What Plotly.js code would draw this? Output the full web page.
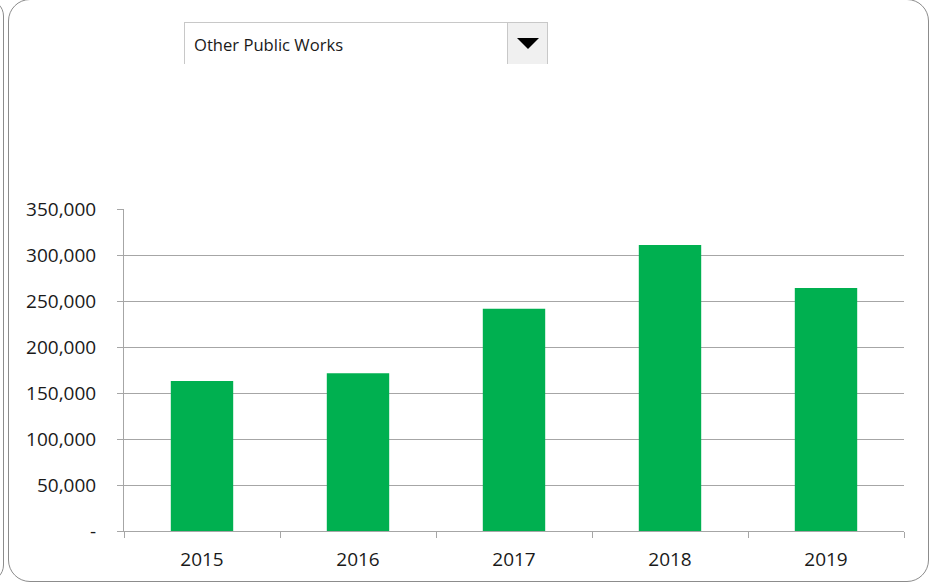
<!DOCTYPE html>
<html>
<head>
<meta charset="utf-8">
<script src="https://cdn.plot.ly/plotly-3.0.1.min.js"></script>
<style>
  html, body { margin: 0; padding: 0; background: #ffffff; }
  #wrap { position: relative; width: 941px; height: 584px; overflow: hidden; background: #fff; }
  #chart { position: absolute; left: 0; top: 0; width: 941px; height: 584px; }
  #frame { position: absolute; left: 8px; top: -1px; width: 919px; height: 581px; border: 1px solid #8c8c8c; border-radius: 22px; pointer-events: none; }
  #frameLeft { position: absolute; left: -30px; top: -1px; width: 32px; height: 581px; border: 1px solid #8c8c8c; border-radius: 22px; pointer-events: none; }
  #dd { position: absolute; left: 184px; top: 22px; width: 363px; height: 42px; border-top: 1px solid #c8c8c8; border-left: 1px solid #c8c8c8; box-sizing: border-box; font-family: "Open Sans", "Noto Sans", sans-serif; font-size: 16.6px; color: #1a1a1a; }
  #ddText { position: absolute; left: 9px; top: 10px; }
  #ddBtn { position: absolute; right: -1px; top: -1px; width: 41px; height: 42px; background: #f0f0f0; border: 1px solid #c8c8c8; border-bottom: none; box-sizing: border-box; }
  #ddArrow { position: absolute; left: 9px; top: 15px; width: 0; height: 0; border-left: 11px solid transparent; border-right: 11px solid transparent; border-top: 11px solid #000; }
</style>
</head>
<body>
<div id="wrap">
  <div id="chart"></div>
  <div id="frameLeft"></div>
  <div id="frame"></div>
  <div id="dd"><span id="ddText">Other Public Works</span><div id="ddBtn"><div id="ddArrow"></div></div></div>
</div>
<script>
const selectedCategory = "Other Public Works";
const years = ["2015", "2016", "2017", "2018", "2019"];
const values = [163000, 171500, 241500, 311000, 264000];
const yTickVals = [0, 50000, 100000, 150000, 200000, 250000, 300000, 350000];
const yTickText = ["-", "50,000", "100,000", "150,000", "200,000", "250,000", "300,000", "350,000"];

document.getElementById("ddText").textContent = selectedCategory;

const trace = {
  type: "bar",
  x: years,
  y: values,
  marker: { color: "#00b050" },
  hoverinfo: "x+y"
};

const layout = {
  width: 941,
  height: 584,
  margin: { l: 124, r: 37, t: 209, b: 53 },
  paper_bgcolor: "rgba(0,0,0,0)",
  plot_bgcolor: "rgba(0,0,0,0)",
  showlegend: false,
  bargap: 0.6,
  font: { family: "Open Sans, Noto Sans, sans-serif", size: 19, color: "#1a1a1a" },
  xaxis: {
    type: "category",
    showline: true,
    linecolor: "#a6a6a6",
    linewidth: 1,
    ticks: "outside",
    tickson: "boundaries",
    ticklen: 6,
    tickcolor: "#a6a6a6",
    showgrid: false,
    tickfont: { size: 19 },
    ticklabelstandoff: 11
  },
  yaxis: {
    range: [0, 350000],
    autorange: false,
    tickvals: yTickVals,
    ticktext: yTickText,
    showline: true,
    linecolor: "#a6a6a6",
    linewidth: 1,
    ticks: "outside",
    ticklen: 6,
    tickcolor: "#a6a6a6",
    showgrid: true,
    gridcolor: "#a6a6a6",
    gridwidth: 1,
    zeroline: false,
    tickfont: { size: 19 },
    ticklabelstandoff: 17
  }
};

Plotly.newPlot("chart", [trace], layout, { displayModeBar: false, staticPlot: true });
</script>
</body>
</html>
